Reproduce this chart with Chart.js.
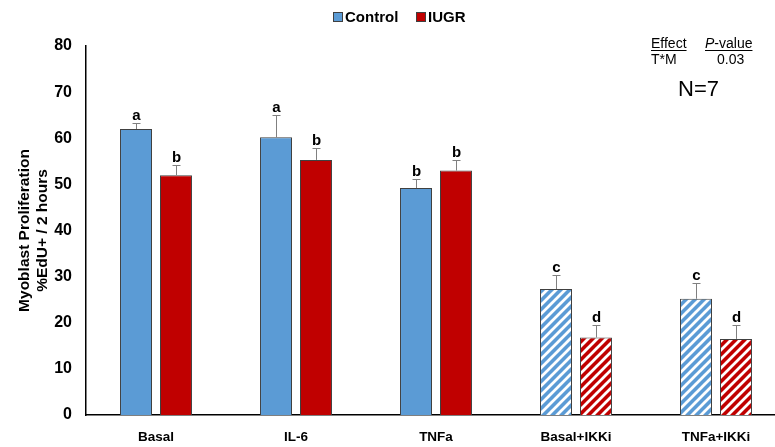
<!DOCTYPE html>
<html lang="en">
<head>
    <meta charset="UTF-8">
    <title>Myoblast Proliferation</title>
    <script src="https://cdn.jsdelivr.net/npm/chart.js@4.4.0/dist/chart.umd.min.js"></script>
    <style>
        html, body { margin: 0; background: #fff; overflow: hidden; }
        /* the x axis runs a little past the right edge in the original */
        #wrap { width: 786px; height: 447px; }
    </style>
</head>
<body>
    <div id="wrap"><canvas id="prolifChart"></canvas></div>
    <script>
    // data
    var categories = ["Basal", "IL-6", "TNFa", "Basal+IKKi", "TNFa+IKKi"];
    var controlVals = [62.0, 60.2, 49.2, 27.3, 25.2];
    var iugrVals = [52.0, 55.3, 53.0, 16.8, 16.5];
    var controlErr = [1.4, 4.9, 1.9, 3.0, 3.4];
    var iugrErr = [2.2, 2.6, 2.2, 2.7, 3.1];
    var controlLetters = ["a", "a", "b", "c", "c"];
    var iugrLetters = ["b", "b", "b", "d", "d"];
    var hatched = [false, false, false, true, true];
    var yTicks = [0, 10, 20, 30, 40, 50, 60, 70, 80];

    var blue = '#5b9bd5';
    var red = '#c00000';
    var FONT = '"Liberation Sans", Arial, sans-serif';

    function stripes(color) {
        var n = 9;
        var c = document.createElement('canvas');
        c.width = n; c.height = n;
        var g = c.getContext('2d');
        g.fillStyle = color;
        g.fillRect(0, 0, n, n);
        g.strokeStyle = '#ffffff';
        g.lineWidth = 2.8;
        g.beginPath();
        g.moveTo(-2, n + 2); g.lineTo(n + 2, -2);
        g.moveTo(-2, 2); g.lineTo(2, -2);
        g.moveTo(n - 2, n + 2); g.lineTo(n + 2, n - 2);
        g.stroke();
        return g.createPattern(c, 'repeat');
    }

    var blueFill = hatched.map(function (h) { return h ? stripes(blue) : blue; });
    var redFill = hatched.map(function (h) { return h ? stripes(red) : red; });

    // legend, error bars, letters and the stats note
    var extras = {
        id: 'extras',
        afterDatasetsDraw: function (chart) {
            var ctx = chart.ctx;
            var y = chart.scales.y;
            var sets = [
                { vals: controlVals, err: controlErr, letters: controlLetters },
                { vals: iugrVals, err: iugrErr, letters: iugrLetters }
            ];
            ctx.save();
            sets.forEach(function (s, di) {
                var meta = chart.getDatasetMeta(di);
                meta.data.forEach(function (bar, i) {
                    var x = Math.round(bar.x) + 0.5;
                    var top = y.getPixelForValue(s.vals[i]);
                    var etop = Math.round(y.getPixelForValue(s.vals[i] + s.err[i])) + 0.5;
                    ctx.strokeStyle = '#808080';
                    ctx.lineWidth = 1;
                    ctx.beginPath();
                    ctx.moveTo(x, top);
                    ctx.lineTo(x, etop);
                    ctx.moveTo(x - 4, etop);
                    ctx.lineTo(x + 4, etop);
                    ctx.stroke();
                    ctx.fillStyle = '#000';
                    ctx.font = 'bold 15px ' + FONT;
                    ctx.textAlign = 'center';
                    ctx.textBaseline = 'alphabetic';
                    ctx.fillText(s.letters[i], x, etop - 4);
                });
            });

            // legend
            ctx.font = 'bold 15px ' + FONT;
            ctx.textAlign = 'left';
            ctx.textBaseline = 'middle';
            var items = [['Control', blue, 333], ['IUGR', red, 416]];
            items.forEach(function (it) {
                ctx.fillStyle = it[1];
                ctx.fillRect(it[2], 12, 10, 10);
                ctx.strokeStyle = '#404040';
                ctx.strokeRect(it[2] + 0.5, 12.5, 9, 9);
                ctx.fillStyle = '#000';
                ctx.fillText(it[0], it[2] + 12, 17.5);
            });

            ctx.textBaseline = 'alphabetic';
            ctx.fillStyle = '#000';
            ctx.font = '14px ' + FONT;
            ctx.fillText('Effect', 651, 48);
            ctx.fillRect(651, 50, ctx.measureText('Effect').width, 1);
            ctx.font = 'italic 14px ' + FONT;
            ctx.fillText('P', 705, 48);
            var pw = ctx.measureText('P').width;
            ctx.font = '14px ' + FONT;
            ctx.fillText('-value', 705 + pw, 48);
            ctx.fillRect(705, 50, pw + ctx.measureText('-value').width, 1);
            ctx.fillText('T*M', 651, 64);
            ctx.fillText('0.03', 717, 64);
            ctx.font = '22px ' + FONT;
            ctx.fillText('N=7', 678, 96);
            ctx.restore();
        }
    };

    var ctx = document.getElementById('prolifChart').getContext('2d');
    var chart = new Chart(ctx, {
        type: 'bar',
        data: {
            labels: categories,
            datasets: [{
                label: 'Control',
                data: controlVals,
                backgroundColor: blueFill,
                borderColor: '#404040',
                borderWidth: 1,
                categoryPercentage: 0.571,
                barPercentage: 0.8
            }, {
                label: 'IUGR',
                data: iugrVals,
                backgroundColor: redFill,
                borderColor: '#404040',
                borderWidth: 1,
                categoryPercentage: 0.571,
                barPercentage: 0.8
            }]
        },
        options: {
            responsive: true,
            maintainAspectRatio: false,
            animation: false,
            layout: { padding: { top: 46, right: 0, left: 0, bottom: 0 } },
            plugins: {
                tooltip: { enabled: false },
                legend: { display: false }
            },
            scales: {
                x: {
                    grid: { display: false, drawTicks: false },
                    border: { color: '#000', width: 1.5 },
                    ticks: {
                        color: '#000',
                        padding: 14,
                        maxRotation: 0,
                        font: { family: FONT, size: 13.5, weight: 'bold' }
                    },
                    afterFit: function (s) { s.height = 32; }
                },
                y: {
                    min: 0,
                    max: 80,
                    afterBuildTicks: function (s) {
                        s.ticks = yTicks.map(function (v) { return { value: v }; });
                    },
                    grid: { display: false, drawTicks: false },
                    border: { color: '#000', width: 1.5 },
                    ticks: {
                        color: '#000',
                        padding: 14,
                        font: { family: FONT, size: 16, weight: 'bold' }
                    },
                    title: {
                        display: true,
                        text: ['Myoblast Proliferation', '%EdU+ / 2 hours'],
                        color: '#000',
                        padding: { top: 15, bottom: 0 },
                        font: { family: FONT, size: 15.5, weight: 'bold', lineHeight: 1.2 }
                    },
                    afterFit: function (s) { s.width = 86; }
                }
            }
        },
        plugins: [extras]
    });
    </script>
</body>
</html>
